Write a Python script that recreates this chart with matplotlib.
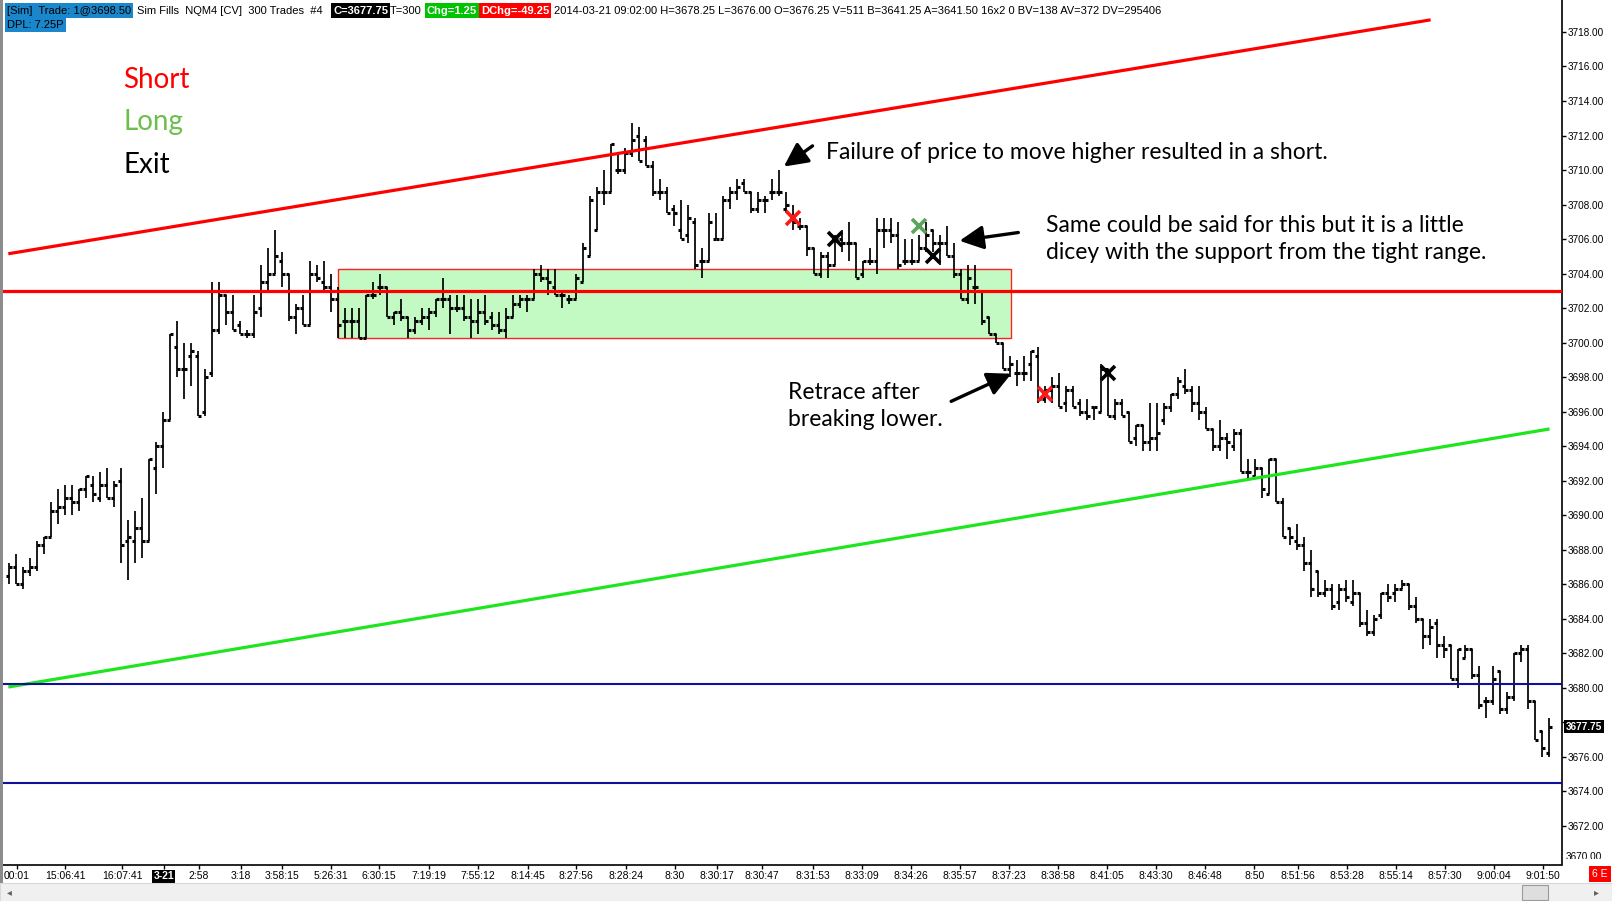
import matplotlib
matplotlib.use("Agg")
import matplotlib.pyplot as plt
from matplotlib.collections import LineCollection
from matplotlib.patches import Rectangle
from matplotlib.transforms import Bbox

# NQM4 300-trade bars
opens = [
    3686.5, 3687.0, 3686.0, 3686.75, 3687.0, 3688.25, 3688.75, 3690.25, 3690.5, 3691.0,
    3690.75, 3691.5, 3691.75, 3691.0, 3691.75, 3691.0, 3692.0, 3688.5, 3688.5, 3689.25,
    3688.5, 3692.75, 3694.0, 3695.5, 3699.75, 3698.5, 3699.25, 3699.25, 3696.0, 3698.25,
    3700.75, 3702.75, 3701.75, 3701.0, 3700.5, 3700.5, 3702.0, 3703.5, 3704.0, 3704.75,
    3704.0, 3701.5, 3702.0, 3701.0, 3704.0, 3703.5, 3703.25, 3702.5, 3701.25, 3701.25,
    3701.25, 3700.25, 3702.75, 3703.25, 3703.25, 3701.5, 3701.75, 3701.5, 3700.75, 3701.25,
    3701.5, 3701.75, 3702.5, 3702.5, 3702.0, 3702.0, 3701.5, 3701.25, 3701.75, 3701.5,
    3701.0, 3700.75, 3701.5, 3702.25, 3702.5, 3702.5, 3704.0, 3703.75, 3703.25, 3702.75,
    3702.5, 3702.5, 3703.5, 3705.0, 3706.5, 3708.75, 3708.75, 3710.0, 3710.0, 3711.0,
    3712.0, 3711.75, 3710.25, 3708.75, 3708.75, 3707.75, 3706.5, 3706.25, 3707.0, 3704.75,
    3704.75, 3706.0, 3706.0, 3708.25, 3708.75, 3709.25, 3708.75, 3707.75, 3708.25, 3708.75,
    3708.75, 3707.75, 3707.25, 3706.75, 3706.75, 3705.5, 3704.0, 3705.0, 3704.5, 3706.0,
    3705.75, 3705.75, 3704.0, 3704.75, 3704.75, 3706.5, 3706.5, 3706.25, 3704.75, 3704.75,
    3704.75, 3705.5, 3706.5, 3705.75, 3705.75, 3705.0, 3704.0, 3702.5, 3703.25, 3703.0,
    3701.5, 3700.5, 3700.0, 3698.5, 3698.25, 3698.25, 3698.75, 3699.25, 3696.75, 3697.25,
    3697.5, 3696.5, 3697.25, 3696.5, 3696.0, 3696.25, 3696.0, 3698.5, 3695.75, 3696.5,
    3696.0, 3694.5, 3695.25, 3694.25, 3694.5, 3695.5, 3696.25, 3697.0, 3697.5, 3697.25,
    3696.5, 3696.0, 3695.0, 3694.0, 3694.5, 3694.0, 3694.75, 3692.5, 3692.25, 3692.75,
    3691.25, 3693.25, 3690.75, 3689.25, 3688.5, 3688.25, 3687.25, 3686.75, 3685.5, 3685.75,
    3685.0, 3685.75, 3685.0, 3685.5, 3683.75, 3683.25, 3684.25, 3685.5, 3685.5, 3685.75,
    3686.0, 3684.75, 3684.0, 3683.0, 3683.75, 3682.5, 3682.5, 3680.5, 3681.75, 3682.25,
    3680.75, 3679.25, 3679.25, 3681.0, 3678.75, 3679.5, 3682.0, 3682.25, 3679.25, 3677.5,
    3676.25,
]
highs = [
    3687.25, 3687.75, 3687.0, 3687.5, 3688.5, 3688.75, 3690.75, 3691.5, 3691.75, 3691.75,
    3691.5, 3692.25, 3692.25, 3692.5, 3692.75, 3692.0, 3692.75, 3689.75, 3690.25, 3691.0,
    3693.25, 3694.25, 3696.0, 3700.5, 3701.25, 3700.0, 3700.0, 3699.5, 3698.5, 3703.5,
    3703.5, 3702.75, 3702.75, 3701.25, 3700.75, 3702.75, 3704.5, 3705.5, 3706.5, 3705.25,
    3704.0, 3702.25, 3702.75, 3704.75, 3704.5, 3704.75, 3704.0, 3703.25, 3702.0, 3702.0,
    3702.0, 3702.75, 3703.5, 3704.0, 3703.25, 3701.75, 3702.5, 3701.5, 3701.5, 3702.0,
    3702.0, 3702.5, 3703.75, 3702.75, 3702.75, 3702.75, 3702.5, 3702.5, 3702.75, 3701.75,
    3701.75, 3702.0, 3702.75, 3702.75, 3702.75, 3704.25, 3704.5, 3704.25, 3704.25, 3703.0,
    3702.75, 3704.0, 3705.75, 3708.5, 3709.0, 3710.0, 3711.5, 3711.0, 3711.25, 3712.75,
    3712.5, 3712.0, 3710.5, 3709.5, 3709.0, 3708.0, 3708.25, 3708.0, 3707.25, 3705.5,
    3707.5, 3707.5, 3708.5, 3709.0, 3709.5, 3709.5, 3708.75, 3708.75, 3708.5, 3709.5,
    3710.0, 3708.75, 3708.0, 3707.25, 3706.75, 3705.5, 3705.25, 3705.25, 3706.25, 3706.5,
    3707.0, 3705.75, 3704.75, 3705.5, 3707.25, 3707.25, 3707.25, 3707.0, 3706.0, 3706.0,
    3706.25, 3707.0, 3706.5, 3706.25, 3706.75, 3705.75, 3704.25, 3704.5, 3704.5, 3703.0,
    3701.5, 3700.5, 3700.0, 3699.25, 3699.0, 3699.25, 3699.5, 3699.75, 3697.5, 3698.0,
    3698.25, 3697.5, 3697.5, 3696.75, 3696.75, 3696.25, 3698.75, 3698.5, 3696.75, 3696.75,
    3696.0, 3695.25, 3695.25, 3696.5, 3696.5, 3696.5, 3697.0, 3698.0, 3698.5, 3697.5,
    3697.5, 3696.25, 3695.0, 3695.5, 3694.75, 3695.0, 3695.0, 3693.25, 3693.25, 3692.75,
    3693.25, 3693.25, 3691.0, 3689.25, 3689.5, 3688.75, 3688.0, 3686.75, 3686.25, 3686.0,
    3686.0, 3686.25, 3686.25, 3685.5, 3684.5, 3684.25, 3685.5, 3686.0, 3686.0, 3686.25,
    3686.0, 3685.25, 3684.0, 3684.0, 3684.0, 3683.0, 3682.5, 3682.25, 3682.5, 3682.25,
    3681.25, 3679.5, 3681.25, 3681.0, 3679.75, 3682.0, 3682.5, 3682.5, 3679.25, 3677.5,
    3678.25,
]
lows = [
    3686.0, 3686.0, 3685.75, 3686.5, 3686.75, 3687.75, 3688.75, 3689.5, 3690.0, 3690.0,
    3690.25, 3691.0, 3690.75, 3690.75, 3691.0, 3690.5, 3687.25, 3686.25, 3687.25, 3687.5,
    3688.5, 3691.25, 3692.75, 3695.5, 3698.0, 3696.75, 3697.5, 3695.75, 3695.75, 3698.0,
    3700.5, 3701.0, 3700.75, 3700.5, 3700.25, 3700.25, 3701.5, 3703.0, 3704.0, 3703.25,
    3701.25, 3700.5, 3701.0, 3701.0, 3703.5, 3703.0, 3701.75, 3700.25, 3700.25, 3700.25,
    3700.25, 3700.25, 3702.5, 3702.75, 3701.5, 3701.0, 3701.25, 3700.25, 3700.5, 3701.0,
    3700.75, 3701.5, 3702.0, 3700.5, 3701.75, 3701.25, 3700.25, 3700.5, 3701.0, 3700.75,
    3700.5, 3700.25, 3701.5, 3702.0, 3701.75, 3702.5, 3703.5, 3702.75, 3702.75, 3702.0,
    3702.25, 3702.5, 3703.5, 3705.0, 3706.5, 3708.0, 3708.75, 3709.75, 3709.75, 3710.75,
    3710.5, 3710.25, 3708.5, 3708.25, 3707.5, 3706.75, 3706.0, 3705.75, 3704.25, 3703.75,
    3704.75, 3706.0, 3706.0, 3707.75, 3708.25, 3708.75, 3707.5, 3707.5, 3707.5, 3708.25,
    3708.5, 3707.5, 3706.5, 3706.5, 3705.0, 3704.0, 3703.75, 3703.75, 3704.5, 3705.25,
    3704.75, 3703.75, 3703.75, 3704.5, 3704.0, 3705.5, 3705.75, 3704.25, 3704.5, 3704.5,
    3704.75, 3705.25, 3705.25, 3704.5, 3705.0, 3703.75, 3702.5, 3702.25, 3702.25, 3701.0,
    3700.5, 3700.0, 3698.5, 3698.0, 3697.5, 3697.75, 3697.75, 3696.5, 3696.5, 3696.5,
    3696.25, 3696.0, 3696.25, 3695.75, 3695.5, 3695.5, 3696.0, 3695.75, 3695.5, 3695.75,
    3694.25, 3694.0, 3693.75, 3693.75, 3693.75, 3695.25, 3696.0, 3696.75, 3697.0, 3696.0,
    3695.5, 3695.0, 3693.75, 3693.75, 3693.25, 3693.75, 3692.5, 3692.0, 3692.25, 3691.0,
    3691.25, 3690.75, 3688.75, 3688.25, 3688.0, 3686.75, 3685.25, 3685.25, 3685.25, 3684.5,
    3684.5, 3685.0, 3684.75, 3683.5, 3683.0, 3683.0, 3684.0, 3685.0, 3685.0, 3685.75,
    3684.5, 3683.75, 3682.25, 3682.5, 3681.75, 3681.75, 3680.5, 3680.0, 3681.75, 3680.5,
    3678.75, 3678.25, 3679.0, 3678.5, 3678.5, 3679.25, 3681.5, 3678.75, 3677.0, 3676.0,
    3676.0,
]
closes = [
    3687.0, 3686.0, 3686.75, 3687.0, 3688.25, 3688.75, 3690.25, 3690.5, 3691.0, 3690.75,
    3691.5, 3692.25, 3691.25, 3691.75, 3691.0, 3691.75, 3688.25, 3688.75, 3689.25, 3688.5,
    3693.25, 3694.0, 3695.5, 3700.5, 3698.5, 3698.5, 3699.5, 3695.75, 3698.0, 3700.75,
    3702.75, 3701.75, 3700.75, 3700.5, 3700.5, 3701.75, 3703.5, 3704.0, 3705.0, 3704.0,
    3701.5, 3702.0, 3701.0, 3704.0, 3703.75, 3703.25, 3702.5, 3701.0, 3701.25, 3701.25,
    3700.25, 3702.75, 3702.75, 3703.25, 3701.5, 3701.75, 3701.5, 3700.75, 3701.25, 3701.5,
    3701.75, 3702.5, 3702.5, 3702.0, 3702.0, 3701.5, 3701.25, 3701.75, 3701.25, 3701.0,
    3700.75, 3701.5, 3702.25, 3702.5, 3702.5, 3704.0, 3703.75, 3703.5, 3702.75, 3702.75,
    3702.5, 3703.75, 3705.5, 3708.25, 3708.75, 3708.75, 3711.5, 3710.0, 3711.0, 3711.75,
    3710.5, 3710.25, 3708.75, 3708.75, 3707.5, 3707.5, 3706.0, 3707.25, 3704.5, 3704.75,
    3707.0, 3706.0, 3708.25, 3708.75, 3709.0, 3708.75, 3707.75, 3708.25, 3708.25, 3708.75,
    3708.75, 3708.0, 3707.0, 3706.75, 3705.5, 3704.0, 3705.0, 3704.5, 3706.0, 3705.75,
    3705.75, 3703.75, 3704.75, 3704.75, 3706.5, 3706.5, 3706.25, 3704.5, 3704.75, 3704.75,
    3705.5, 3706.25, 3705.75, 3705.75, 3705.0, 3704.0, 3702.5, 3703.75, 3703.25, 3701.25,
    3700.5, 3700.0, 3698.5, 3698.75, 3698.25, 3698.25, 3699.5, 3696.75, 3697.25, 3697.5,
    3696.25, 3697.25, 3696.25, 3696.0, 3695.75, 3696.25, 3698.5, 3695.75, 3696.5, 3695.75,
    3694.25, 3695.25, 3694.25, 3694.5, 3694.75, 3696.25, 3697.0, 3697.75, 3697.25, 3696.5,
    3696.0, 3695.0, 3694.0, 3694.5, 3694.25, 3694.75, 3692.5, 3692.5, 3692.75, 3691.5,
    3693.25, 3690.75, 3688.75, 3688.75, 3688.25, 3687.25, 3685.75, 3685.5, 3685.75, 3684.75,
    3685.75, 3685.25, 3685.5, 3683.75, 3683.25, 3684.0, 3685.5, 3685.25, 3685.75, 3686.0,
    3684.75, 3684.0, 3683.0, 3683.5, 3682.5, 3682.25, 3680.5, 3682.25, 3682.25, 3680.75,
    3679.0, 3679.25, 3680.5, 3678.75, 3679.5, 3682.0, 3682.25, 3679.25, 3677.0, 3676.5,
    3677.75,
]

# x-axis time labels and the bar they sit under
tick_bars = [1.1, 8.0, 16.2, 22.1, 27.1, 33.1, 39.0, 46.0, 52.9, 60.0, 67.0, 74.1, 81.0,
             88.1, 95.1, 101.1, 107.6, 114.8, 121.9, 128.8, 135.8, 142.9, 149.8, 156.8,
             163.9, 170.8, 177.9, 184.2, 191.2, 198.1, 205.2, 212.2, 219.1]
tick_labels = ["00:01", "15:06:41", "16:07:41", "3-21", "2:58", "3:18", "3:58:15", "5:26:31",
               "6:30:15", "7:19:19", "7:55:12", "8:14:45", "8:27:56", "8:28:24", "8:30",
               "8:30:17", "8:30:47", "8:31:53", "8:33:09", "8:34:26", "8:35:57", "8:37:23",
               "8:38:58", "8:41:05", "8:43:30", "8:46:48", "8:50", "8:51:56", "8:53:28",
               "8:55:14", "8:57:30", "9:00:04", "9:01:50"]
price_ticks = list(range(3672, 3719, 2))
last_price = 3677.75

# drawn lines
upper_x = [-0.1, 203.1]
upper_y = [3705.15, 3718.7]
lower_x = [-0.1, 220.1]
lower_y = [3680.05, 3695.0]
resistance = 3703.0
blue_levels = [3680.25, 3674.5]
range_bars = [47.0, 143.1]
range_prices = [3700.25, 3704.25]

# fills
trade_bars = [112, 118, 130, 132, 148, 157]
trade_prices = [3707.25, 3706.0, 3706.75, 3705.0, 3697.0, 3698.25]
trade_kinds = ["short", "exit", "long", "exit", "short", "exit"]
kind_colors = {"short": "#ff1a1a", "long": "#5aa55a", "exit": "black"}

W, H = 1612, 901
fig = plt.figure(figsize=(W / 100, H / 100), dpi=100)
fig.patch.set_facecolor("white")
ax = fig.add_axes([3 / W, 36 / H, (1561.5 - 3) / W, 865 / H])
ax.set_xlim(-0.86, 221.8)
ax.set_ylim(3669.74, 3719.85)

ann_font = ["Lato", "DejaVu Sans"]
small_font = ["Liberation Sans", "DejaVu Sans"]

# consolidation box + lines
ax.add_patch(Rectangle((range_bars[0], range_prices[0]), range_bars[1] - range_bars[0],
                       range_prices[1] - range_prices[0], facecolor="#c3fac3",
                       edgecolor="#ff2020", lw=1.0, zorder=1))

n = len(closes)
vert = [[(i, lows[i]), (i, highs[i])] for i in range(n)]
otk = [[(i - 0.45, opens[i]), (i, opens[i])] for i in range(n)]
ctk = [[(i, closes[i]), (i + 0.45, closes[i])] for i in range(n)]
ax.add_collection(LineCollection(vert, colors="black", linewidths=1.25, zorder=3))
ax.add_collection(LineCollection(otk + ctk, colors="black", linewidths=2.2,
                                 capstyle="butt", zorder=3))

ax.axhline(resistance, color="#ff0000", lw=2.3, zorder=4)
ax.plot(upper_x, upper_y, color="#ff0000", lw=2.3, zorder=4, solid_capstyle="butt")
ax.plot(lower_x, lower_y, color="#1ee61e", lw=2.3, zorder=4, solid_capstyle="butt")
for lvl in blue_levels:
    ax.axhline(lvl, color="#10109a", lw=1.5, zorder=4)

for b, p, k in zip(trade_bars, trade_prices, trade_kinds):
    ax.plot(b, p, marker="x", ms=9.5, mew=2.6, color=kind_colors[k], zorder=6)

# text annotations
ax.text(16.3, 3715.2, "Short", color="#ff0000", fontsize=20, family=ann_font, va="center")
ax.text(16.3, 3712.8, "Long", color="#6cbf4c", fontsize=20, family=ann_font, va="center")
ax.text(16.3, 3710.3, "Exit", color="black", fontsize=20, family=ann_font, va="center")

ax.text(116.7, 3711.0, "Failure of price to move higher resulted in a short.",
        fontsize=16.5, family=ann_font, va="center")
ax.text(148.2, 3706.0, "Same could be said for this but it is a little\n"
        "dicey with the support from the tight range.",
        fontsize=16.5, family=ann_font, va="center", linespacing=1.35)
ax.text(111.3, 3696.35, "Retrace after\nbreaking lower.", fontsize=16.5, family=ann_font,
        va="center", linespacing=1.35)

arrow = dict(arrowstyle="-|>,head_length=0.8,head_width=0.4", lw=2.4, color="black",
             mutation_scale=18, shrinkA=0, shrinkB=0)
ax.annotate("", xy=(110.7, 3710.2), xytext=(114.8, 3711.4), arrowprops=arrow, zorder=7)
ax.annotate("", xy=(135.8, 3705.9), xytext=(144.2, 3706.38), arrowprops=arrow, zorder=7)
ax.annotate("", xy=(143.2, 3698.2), xytext=(134.6, 3696.6), arrowprops=arrow, zorder=7)

# axes styling
for s in ["top", "left"]:
    ax.spines[s].set_visible(False)
ax.spines["right"].set_linewidth(1.2)
ax.spines["bottom"].set_linewidth(1.2)
ax.yaxis.tick_right()
ax.set_yticks(price_ticks)
# the 3678 label sits under the last-price tag in the reference
ax.set_yticklabels(["" if abs(v - last_price) < 1 else f"{v:.2f}" for v in price_ticks],
                   family=small_font)
ax.tick_params(axis="y", direction="out", length=3, width=1, pad=1.5, labelsize=7.2)
ax.set_xticks(tick_bars)
ax.set_xticklabels(tick_labels, family=small_font)
ax.tick_params(axis="x", direction="out", length=3, width=1, pad=1.5, labelsize=7.5)
for lbl in ax.get_xticklabels():
    if lbl.get_text() == "3-21":
        lbl.set_color("white")
        lbl.set_fontweight("bold")
        lbl.set_bbox(dict(facecolor="black", edgecolor="none", pad=1.0))

# last price tag on the price axis
ax.text(1.003, last_price, f"{last_price:.2f}", transform=ax.get_yaxis_transform(),
        color="white", fontsize=7.2, fontweight="bold", family=small_font, va="center",
        ha="left", bbox=dict(facecolor="black", edgecolor="none", pad=1.2), zorder=8,
        clip_on=False)

# half-hidden bottom label
t = fig.text(1566 / W, 1 - 857 / H, "3670.00", fontsize=7.2, family=small_font, va="center")
t.set_clip_box(Bbox([[1562, 42], [W, H]]))
t.set_clip_on(True)


def px(x, y):
    return x / W, 1 - y / H


# header strip
hdr = dict(fontsize=8, family=small_font, va="center", ha="left")
fig.text(*px(7, 10.5), "[Sim]  Trade: 1@3698.50", color="black",
         bbox=dict(facecolor="#1a86cc", edgecolor="none", pad=1.5), **hdr)
fig.text(*px(137, 10.5), "Sim Fills  NQM4 [CV]  300 Trades  #4", color="black", **hdr)
fig.text(*px(333, 10.5), "C=3677.75", color="white", fontweight="bold",
         bbox=dict(facecolor="black", edgecolor="none", pad=1.5), **hdr)
fig.text(*px(390, 10.5), "T=300", color="black", **hdr)
fig.text(*px(427, 10.5), "Chg=1.25", color="white", fontweight="bold",
         bbox=dict(facecolor="#00c400", edgecolor="none", pad=1.5), **hdr)
fig.text(*px(481, 10.5), "DChg=-49.25", color="white", fontweight="bold",
         bbox=dict(facecolor="#ff0000", edgecolor="none", pad=1.5), **hdr)
fig.text(*px(554, 10.5), "2014-03-21 09:02:00 H=3678.25 L=3676.00 O=3676.25 V=511 "
         "B=3641.25 A=3641.50 16x2 0 BV=138 AV=372 DV=295406", color="black", **hdr)
fig.text(*px(7, 24.5), "DPL: 7.25P", color="black",
         bbox=dict(facecolor="#1a86cc", edgecolor="none", pad=1.5), **hdr)

# window chrome: left border, scrollbar, corner tag
fig.patches.append(Rectangle((0, 18 / H), 3 / W, 1 - 18 / H, transform=fig.transFigure,
                             facecolor="#8c8c8c", edgecolor="none"))
fig.patches.append(Rectangle((0, 0), 1, 18 / H, transform=fig.transFigure,
                             facecolor="#f0f0f0", edgecolor="#d9d9d9", lw=0.8))
fig.patches.append(Rectangle((1522 / W, 1.5 / H), 26 / W, 15 / H, transform=fig.transFigure,
                             facecolor="#dedede", edgecolor="#9a9a9a", lw=0.8))
fig.text(*px(9, 892), "◂", fontsize=7, color="#606060", va="center", ha="center")
fig.text(*px(1596, 892), "▸", fontsize=7, color="#606060", va="center", ha="center")
fig.text(*px(1600, 874), "6 E", fontsize=7.5, color="white", family=small_font,
         va="center", ha="center", bbox=dict(facecolor="#ff0000", edgecolor="none", pad=2.5))

fig.savefig("out.png", dpi=100, facecolor="white")
